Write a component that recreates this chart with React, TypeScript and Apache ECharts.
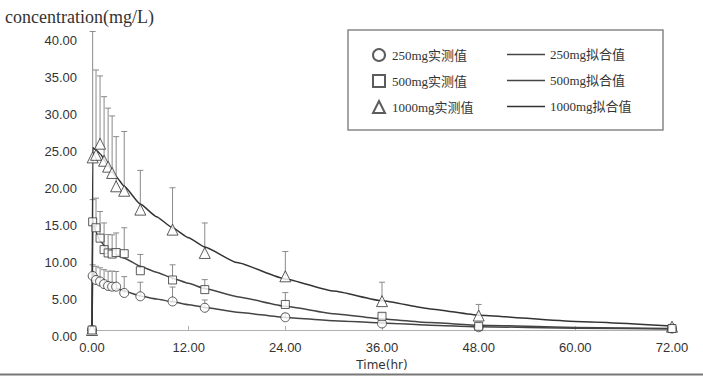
import React, { useEffect, useRef } from "react";
import * as echarts from "echarts";

// measured sampling times (hr)
const measuredTimes = [0, 0.083, 0.5, 1, 1.5, 2, 2.5, 3, 4, 6, 10, 14, 24, 36, 48, 72];
// measured means (mg/L) and upper SD
const mean250 = [0, 7.3, 6.75, 6.55, 6.2, 5.95, 5.85, 5.85, 5.0, 4.55, 3.85, 3.0, 1.72, 0.88, 0.38, 0.2];
const sd250 = [0, 1.5, 1.85, 1.85, 1.95, 2.0, 2.1, 2.05, 2.2, 1.9, 1.95, 1.05, 0.5, 0.3, 0.2, 0.1];
const mean500 = [0, 14.6, 13.8, 12.4, 10.85, 10.4, 10.25, 10.45, 10.3, 8.0, 6.75, 5.45, 3.45, 1.85, 0.5, 0.2];
const sd500 = [0, 3.0, 4.0, 3.6, 3.6, 2.5, 2.6, 2.65, 3.5, 2.2, 2.05, 1.35, 1.6, 0.4, 0.3, 0.1];
const mean1000 = [0, 23.3, 23.65, 25.15, 22.85, 22.05, 21.2, 19.4, 18.8, 16.25, 13.55, 10.4, 7.25, 3.9, 1.95, 0.45];
const sd1000 = [0, 17.0, 11.45, 9.15, 8.65, 7.9, 7.7, 6.7, 8.0, 5.3, 5.65, 4.05, 3.35, 2.55, 1.5, 0.3];

// fitted curves
const fitTimes = [0, 0.1, 0.5, 1, 2, 3, 4, 6, 8, 10, 12, 14, 18, 24, 30, 36, 42, 48, 60, 72];
const fit250 = [0, 7.9, 7.0, 6.5, 6.0, 5.6, 5.25, 4.6, 4.2, 3.8, 3.4, 3.05, 2.4, 1.7, 1.25, 0.95, 0.65, 0.45, 0.25, 0.15];
const fit500 = [0, 14.8, 13.2, 12.0, 10.8, 10.2, 9.7, 8.6, 7.8, 7.0, 6.3, 5.6, 4.5, 3.2, 2.2, 1.5, 1.0, 0.65, 0.35, 0.2];
const fit1000 = [0, 24.6, 24.3, 23.8, 22.2, 20.7, 19.4, 17.0, 15.3, 13.8, 12.45, 11.2, 9.1, 6.9, 5.25, 3.95, 2.85, 2.0, 1.15, 0.55];

const measuredNames = ["250mg实测值", "500mg实测值", "1000mg实测值"];
const fitNames = ["250mg拟合值", "500mg拟合值", "1000mg拟合值"];

const serif = "'Liberation Serif', 'Noto Sans CJK SC', serif";
const sans = "'Liberation Sans', Arial, sans-serif";

function pairs(xs: number[], ys: number[]) {
  return xs.map((x, i) => [x, ys[i]]);
}
function triples(xs: number[], ys: number[], ss: number[]) {
  return xs.map((x, i) => [x, ys[i], ss[i]]);
}

const errorRender = (params: any, api: any) => {
  const x = api.value(0);
  const m = api.value(1);
  const s = api.value(2);
  const base = api.coord([x, m]);
  const top = api.coord([x, m + s]);
  const st = { stroke: "#8a8a8a", lineWidth: 1 };
  return {
    type: "group",
    children: [
      { type: "line", shape: { x1: base[0], y1: base[1], x2: top[0], y2: top[1] }, style: st },
      { type: "line", shape: { x1: top[0] - 3, y1: top[1], x2: top[0] + 3, y2: top[1] }, style: st },
    ],
  };
};

const lineIcon = "path://M0,0L38,0L38,1.3L0,1.3Z";

export default function App() {
  const ref = useRef<HTMLDivElement>(null);
  useEffect(() => {
    if (!ref.current) return;
    const chart = echarts.init(ref.current, undefined, { renderer: "svg" });
    const markerStyle = { color: "#ffffff", borderColor: "#333", borderWidth: 1 };
    const measured = [
      { name: measuredNames[0], mean: mean250, sd: sd250, symbol: "circle", size: 9 },
      { name: measuredNames[2], mean: mean1000, sd: sd1000, symbol: "triangle", size: 11 },
      { name: measuredNames[1], mean: mean500, sd: sd500, symbol: "rect", size: 8 },
    ];
    const fits = [
      { name: fitNames[0], data: fit250, color: "#444" },
      { name: fitNames[1], data: fit500, color: "#444" },
      { name: fitNames[2], data: fit1000, color: "#333" },
    ];
    const series: any[] = [];
    measured.forEach((m) => {
      series.push({
        type: "custom",
        name: m.name + "_err",
        renderItem: errorRender,
        data: triples(measuredTimes, m.mean, m.sd),
        z: 1,
        silent: true,
      });
    });
    fits.forEach((f) => {
      series.push({
        type: "line",
        name: f.name,
        data: pairs(fitTimes, f.data),
        symbol: "none",
        showSymbol: false,
        smooth: 0.15,
        smoothMonotone: "x",
        lineStyle: { color: f.color, width: 1.5 },
        itemStyle: { color: f.color },
        z: 2,
      });
    });
    measured.forEach((m) => {
      series.push({
        type: "scatter",
        name: m.name,
        data: pairs(measuredTimes, m.mean),
        symbol: m.symbol,
        symbolSize: m.size,
        itemStyle: markerStyle,
        z: 3,
      });
    });

    chart.setOption({
      animation: false,
      backgroundColor: "#ffffff",
      grid: { left: 92, right: 31, top: 33.7, bottom: 45.5 },
      xAxis: {
        type: "value",
        min: 0,
        max: 72,
        interval: 12,
        name: "Time(hr)",
        nameLocation: "middle",
        nameGap: 29,
        nameTextStyle: { fontFamily: "'DejaVu Sans', sans-serif", fontSize: 12, color: "#333" },
        axisLine: { lineStyle: { color: "#b0b0b0", width: 1 } },
        axisTick: { show: true, inside: true, length: 4, lineStyle: { color: "#b0b0b0" } },
        axisLabel: {
          formatter: (v: number) => v.toFixed(2),
          fontFamily: sans,
          fontSize: 13,
          color: "#333",
          margin: 11,
        },
        splitLine: { show: false },
      },
      yAxis: {
        type: "value",
        min: 0,
        max: 40,
        interval: 5,
        axisLine: { show: false },
        axisTick: { show: false },
        splitLine: { show: false },
        axisLabel: {
          formatter: (v: number) => v.toFixed(2),
          fontFamily: sans,
          fontSize: 13,
          color: "#333",
          margin: 15,
          verticalAlign: "top",
        },
      },
      legend: [
        {
          data: measuredNames,
          orient: "vertical",
          left: 367,
          top: 43,
          itemWidth: 12,
          itemHeight: 12,
          itemGap: 12,
          selectedMode: false,
          textStyle: { fontFamily: serif, fontSize: 13, color: "#333", lineHeight: 12, padding: [0, 0, 0, 2] },
        },
        {
          data: fitNames.map((n) => ({ name: n, icon: lineIcon })),
          orient: "vertical",
          left: 502,
          top: 43,
          itemWidth: 38,
          itemHeight: 12,
          itemGap: 13,
          selectedMode: false,
          textStyle: { fontFamily: serif, fontSize: 13, color: "#333", lineHeight: 12, padding: [0, 0, 0, 0] },
        },
      ],
      graphic: [
        {
          type: "text",
          left: 5,
          top: 8,
          style: { text: "concentration(mg/L)", font: `18px ${serif}`, fill: "#333" },
        },
        {
          type: "rect",
          shape: { x: 348, y: 30, width: 315, height: 100 },
          style: { fill: "none", stroke: "#888", lineWidth: 1.5 },
          z: 0,
        },
        {
          type: "line",
          shape: { x1: 0, y1: 374.5, x2: 703, y2: 374.5 },
          style: { stroke: "#777", lineWidth: 2 },
        },
      ],
      series,
    });
    return () => chart.dispose();
  }, []);
  return (
    <div
      ref={ref}
      style={{ position: "absolute", left: 0, top: 0, width: 703, height: 376, background: "#fff" }}
    />
  );
}
